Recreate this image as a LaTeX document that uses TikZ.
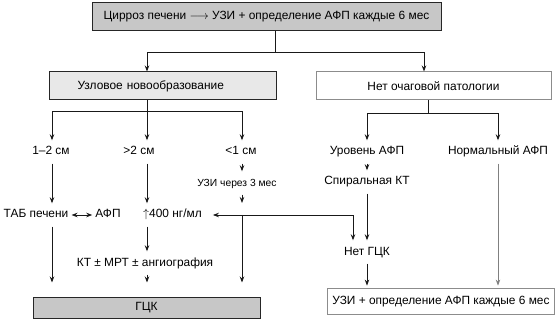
\documentclass[tikz,border=0pt]{standalone}
\usepackage{fontspec}
\setmainfont{Liberation Sans}
\usetikzlibrary{arrows.meta}
\begin{document}
\begin{tikzpicture}[x=1pt,y=-1pt,
  font=\fontsize{11.9}{13.5}\selectfont,
  lbl/.style={inner xsep=3pt, inner ysep=6pt, text height=8.5pt, text depth=2.5pt},
  small/.style={lbl, font=\fontsize{10.3}{12}\selectfont},
  ln/.style={line width=0.9pt, draw=black!90},
  arr/.style={ln, -{Stealth[length=6pt,width=4.5pt]}},
  darr/.style={ln, {Stealth[length=6pt,width=4.5pt]}-{Stealth[length=6pt,width=4.5pt]}},
  garr/.style={arr, draw=black!50},
  darkbox/.style={draw=black!85, line width=1pt, fill=black!22, inner sep=0pt},
  lightbox/.style={draw=black!85, line width=1pt, fill=black!9, inner sep=0pt},
  whitebox/.style={draw=black!45, fill=white, inner sep=0pt}]
\useasboundingbox (0,0) rectangle (560,326);

% boxes
\node[darkbox, minimum width=349pt, minimum height=28pt] (top) at (266.5,17)
  {Цирроз печени $\longrightarrow$ УЗИ + определение АФП каждые 6 мес};
\node[lightbox, minimum height=28pt, text width=171pt, align=left, inner xsep=28pt, anchor=west] (nod) at (49,86)
  {Узловое новообразование};
\node[whitebox, line width=1pt, minimum width=235pt, minimum height=28pt] (nof) at (433.5,86)
  {Нет очаговой патологии};
\node[darkbox, minimum width=227pt, minimum height=21pt] (gck) at (146.5,307.5) {ГЦК};
\node[whitebox, line width=1.8pt, minimum width=227pt, minimum height=26pt] (brbox) at (441,301.5)
  {УЗИ + определение АФП каждые 6 мес};

% labels
\node[lbl] (t12) at (51,152) {1–2 см};
\node[lbl] (tgt2) at (139,152) {>2 см};
\node[lbl] (tlt1) at (241,152) {<1 см};
\node[small] (tuzi) at (237,183) {УЗИ через 3 мес};
\node[lbl] (ttab) at (36,215) {ТАБ печени};
\node[lbl] (tafp) at (108,215) {АФП};
\node[lbl, anchor=west] (t400) at (140,215) {$\uparrow$400 нг/мл};
\node[lbl] (tkt) at (145,263) {КТ ± МРТ ± ангиография};
\node[lbl] (tlev) at (367,152) {Уровень АФП};
\node[lbl] (tnorm) at (498,152) {Нормальный АФП};
\node[lbl] (tspir) at (367,182) {Спиральная КТ};
\node[lbl] (nogck) at (367,252) {Нет ГЦК};

% coordinates
\coordinate (s0) at (275,52);
\coordinate (s1) at (147,111);
\coordinate (cL) at (424,52);
\coordinate (cR) at (428,113);
\coordinate (cA) at (52,215);
\coordinate (cB) at (147,215);
\coordinate (cC) at (242,215);
\coordinate (cCtip) at (242,203);
\coordinate (cD) at (353,215);

% top split
\draw[ln] (top.south -| s0) -- (s0);
\draw[arr] (s0) -| (nod.north -| s1);
\draw[arr] (s0) -| (nof.north -| cL);

% left split
\draw[ln] (nod.south -| s1) -- (s1);
\draw[arr] (s1) -| (t12.north -| cA);
\draw[arr] (s1) -- (tgt2.north -| s1);
\draw[arr] (s1) -| (tlt1.north -| cC);

% right split
\draw[ln] (nof.south -| cR) -- (cR);
\draw[arr] (cR) -| (tlev.north);
\draw[arr] (cR) -| (tnorm.north);

% left column
\draw[arr] (t12.south -| cA) -- (ttab.north -| cA);
\draw[arr, shorten >=14pt] (ttab.south -| cA) -- (gck.north -| cA);
\draw[darr] (ttab.east) -- (tafp.west);

% middle column
\draw[arr] (tgt2.south -| cB) -- (t400.north -| cB);
\draw[arr] (t400.south -| cB) -- (tkt.north -| cB);
\draw[arr, shorten >=14pt] (tkt.south -| cB) -- (gck.north -| cB);

% <1 cm column
\draw[arr] (tlt1.south -| cC) -- (tuzi.north -| cC);
\draw[arr] (tuzi.south -| cC) -- (cCtip);
\draw[arr, shorten >=14pt] (cC) -- (gck.north -| cC);

% feedback line
\draw[darr, shorten <=8pt] (t400.east) -- (cD) -- (nogck.north -| cD);

% right column
\draw[arr] (tlev.south) -- (tspir.north);
\draw[arr] (tspir.south) -- (nogck.north);
\draw[arr, shorten >=2pt] (nogck.south) -- (brbox.north -| nogck.south);
\draw[garr, shorten >=2pt] (tnorm.south) -- (brbox.north -| tnorm.south);
\end{tikzpicture}
\end{document}
